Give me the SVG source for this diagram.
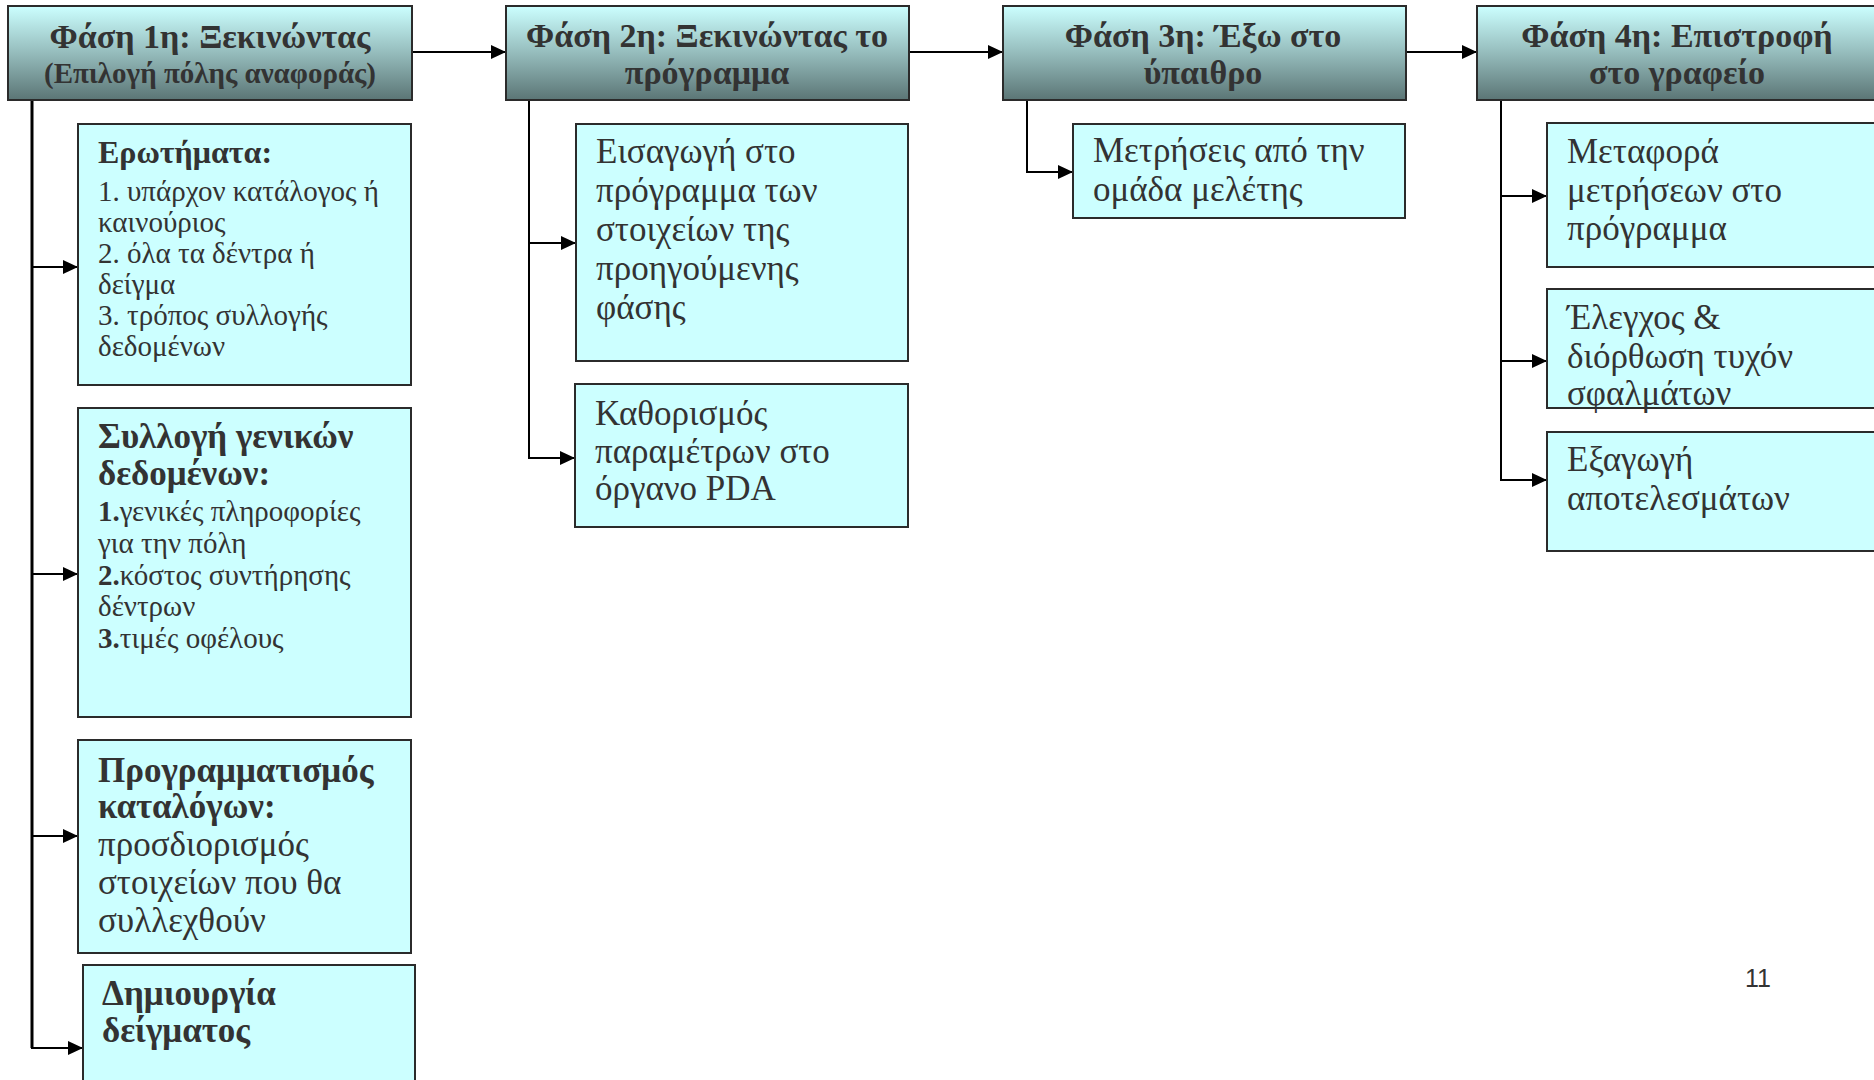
<svg xmlns="http://www.w3.org/2000/svg" width="1874" height="1080" viewBox="0 0 1874 1080">
<defs>
<linearGradient id="hdr" x1="0" y1="0" x2="0" y2="1">
<stop offset="0" stop-color="#ccffff"/>
<stop offset="0.5" stop-color="#95bcbc"/>
<stop offset="1" stop-color="#5b7575"/>
</linearGradient>
<marker id="ah" markerUnits="userSpaceOnUse" markerWidth="16" markerHeight="14" refX="15" refY="7" orient="auto">
<path d="M0,0 L15,7 L0,14 z" fill="#000"/>
</marker>
<style>
.hdr{fill:url(#hdr);stroke:#2b2b2b;stroke-width:2}
.box{fill:#ccffff;stroke:#2b2b2b;stroke-width:2}
text{font-family:"Liberation Serif","DejaVu Serif",serif;fill:#333}
.ht{font-weight:bold;font-size:34px;text-anchor:middle}
.hs{font-weight:bold;font-size:29px;text-anchor:middle}
.b{font-weight:bold}
.t30{font-size:35px}
.t25{font-size:29px}
.c{fill:none;stroke:#000;stroke-width:2}
.ca{fill:none;stroke:#000;stroke-width:2;marker-end:url(#ah)}
.pg{font-family:"Liberation Sans",Arial,sans-serif;font-size:25px;fill:#333}
</style>
</defs>
<rect width="1874" height="1080" fill="#fff"/>

<g id="connectors">
<line class="ca" x1="412" y1="52" x2="506" y2="52"/>
<line class="ca" x1="909" y1="52" x2="1003" y2="52"/>
<line class="ca" x1="1406" y1="52" x2="1477" y2="52"/>
<line x1="32" y1="100" x2="32" y2="1048" stroke="#000" stroke-width="3"/>
<line class="ca" x1="32" y1="267" x2="78" y2="267"/>
<line class="ca" x1="32" y1="574" x2="78" y2="574"/>
<line class="ca" x1="32" y1="836" x2="78" y2="836"/>
<line class="ca" x1="31" y1="1048" x2="83" y2="1048"/>
<line class="c" x1="529" y1="100" x2="529" y2="459"/>
<line class="ca" x1="528" y1="243" x2="576" y2="243"/>
<line class="ca" x1="528" y1="458" x2="575" y2="458"/>
<path class="ca" d="M1027,100 V172 H1073"/>
<line class="c" x1="1501" y1="100" x2="1501" y2="481"/>
<line class="ca" x1="1500" y1="196" x2="1547" y2="196"/>
<line class="ca" x1="1500" y1="361" x2="1547" y2="361"/>
<line class="ca" x1="1500" y1="480" x2="1547" y2="480"/>
</g>

<g id="phase1">
<rect class="hdr" x="8" y="6" width="404" height="94"/>
<text class="ht" x="210" y="48">Φάση 1η: Ξεκινώντας</text>
<text class="hs" x="210" y="83">(Επιλογή πόλης αναφοράς)</text>
</g>
<g id="phase2">
<rect class="hdr" x="506" y="6" width="403" height="94"/>
<text class="ht" x="707" y="47">Φάση 2η: Ξεκινώντας το</text>
<text class="ht" x="707" y="84">πρόγραμμα</text>
</g>
<g id="phase3">
<rect class="hdr" x="1003" y="6" width="403" height="94"/>
<text class="ht" x="1203" y="47">Φάση 3η: Έξω στο</text>
<text class="ht" x="1203" y="84">ύπαιθρο</text>
</g>
<g id="phase4">
<rect class="hdr" x="1477" y="6" width="420" height="94"/>
<text class="ht" x="1677" y="47">Φάση 4η: Επιστροφή</text>
<text class="ht" x="1677" y="84">στο γραφείο</text>
</g>

<g id="questions">
<rect class="box" x="78" y="124" width="333" height="261"/>
<text class="b" x="98" y="163" font-size="32">Ερωτήματα:</text>
<text class="t25" x="98" y="201">1. υπάρχον κατάλογος ή</text>
<text class="t25" x="98" y="232">καινούριος</text>
<text class="t25" x="98" y="263">2. όλα τα δέντρα ή</text>
<text class="t25" x="98" y="294">δείγμα</text>
<text class="t25" x="98" y="325">3. τρόπος συλλογής</text>
<text class="t25" x="98" y="356">δεδομένων</text>
</g>
<g id="general-data">
<rect class="box" x="78" y="408" width="333" height="309"/>
<text class="b t30" x="98" y="448">Συλλογή γενικών</text>
<text class="b t30" x="98" y="485">δεδομένων:</text>
<text class="t25" x="98" y="521"><tspan class="b">1.</tspan>γενικές πληροφορίες</text>
<text class="t25" x="98" y="553">για την πόλη</text>
<text class="t25" x="98" y="585"><tspan class="b">2.</tspan>κόστος συντήρησης</text>
<text class="t25" x="98" y="616">δέντρων</text>
<text class="t25" x="98" y="648"><tspan class="b">3.</tspan>τιμές οφέλους</text>
</g>
<g id="catalog-programming">
<rect class="box" x="78" y="740" width="333" height="213"/>
<text class="b t30" x="98" y="782">Προγραμματισμός</text>
<text class="b t30" x="98" y="818">καταλόγων:</text>
<text class="t30" x="98" y="856">προσδιορισμός</text>
<text class="t30" x="98" y="894">στοιχείων που θα</text>
<text class="t30" x="98" y="932">συλλεχθούν</text>
</g>
<g id="sample">
<rect class="box" x="83" y="965" width="332" height="125"/>
<text class="b t30" x="102" y="1005">Δημιουργία</text>
<text class="b t30" x="102" y="1042">δείγματος</text>
</g>

<g id="data-entry">
<rect class="box" x="576" y="124" width="332" height="237"/>
<text class="t30" x="596" y="163">Εισαγωγή στο</text>
<text class="t30" x="596" y="202">πρόγραμμα των</text>
<text class="t30" x="596" y="241">στοιχείων της</text>
<text class="t30" x="596" y="280">προηγούμενης</text>
<text class="t30" x="596" y="319">φάσης</text>
</g>
<g id="pda-params">
<rect class="box" x="575" y="384" width="333" height="143"/>
<text class="t30" x="595" y="425">Καθορισμός</text>
<text class="t30" x="595" y="463">παραμέτρων στο</text>
<text class="t30" x="595" y="500">όργανο PDA</text>
</g>

<g id="measurements">
<rect class="box" x="1073" y="124" width="332" height="94"/>
<text class="t30" x="1093" y="162">Μετρήσεις από την</text>
<text class="t30" x="1093" y="201">ομάδα μελέτης</text>
</g>

<g id="transfer">
<rect class="box" x="1547" y="123" width="340" height="144"/>
<text class="t30" x="1567" y="163">Μεταφορά</text>
<text class="t30" x="1567" y="202">μετρήσεων στο</text>
<text class="t30" x="1567" y="240">πρόγραμμα</text>
</g>
<g id="check">
<rect class="box" x="1547" y="289" width="340" height="119"/>
<text class="t30" x="1567" y="329">Έλεγχος &amp;</text>
<text class="t30" x="1567" y="368">διόρθωση τυχόν</text>
<text class="t30" x="1567" y="405">σφαλμάτων</text>
</g>
<g id="export">
<rect class="box" x="1547" y="432" width="340" height="119"/>
<text class="t30" x="1567" y="471">Εξαγωγή</text>
<text class="t30" x="1567" y="510">αποτελεσμάτων</text>
</g>

<text class="pg" x="1745" y="987">11</text>
</svg>
